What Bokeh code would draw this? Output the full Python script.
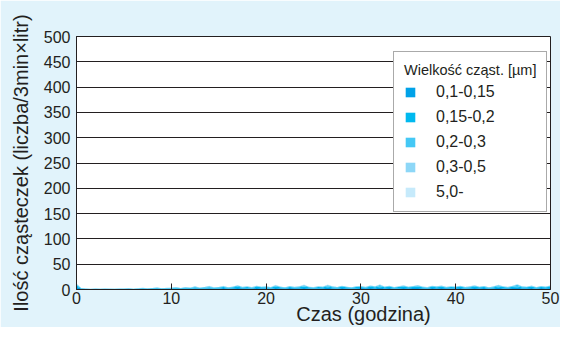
import numpy as np
from bokeh.plotting import figure
from bokeh.models import Legend, LegendItem, ColumnDataSource, FixedTicker
from bokeh.embed import file_html
from bokeh.resources import INLINE

# --- data ---
hours = list(np.linspace(0, 50, 101))
size_classes = ["0,1-0,15", "0,15-0,2", "0,2-0,3", "0,3-0,5", "5,0-"]
colors = ["#00a2e8", "#00b9ef", "#44c8f5", "#8dd7f7", "#c6eafb"]

s1 = [6.0, 1.5, 1.0, 0.8, 1.0, 0.9, 1.2, 1.0, 0.8, 1.1,
      1.0, 1.3, 0.9, 1.2, 1.5, 1.1, 1.4, 1.8, 1.2, 1.6,
      1.5, 1.9, 1.4, 2.0, 1.7, 2.4, 1.8, 2.1, 2.6, 1.9,
      2.2, 2.8, 2.0, 2.5, 3.0, 2.3, 2.7, 2.1, 2.9, 2.4,
      2.6, 2.2, 3.1, 2.5, 2.0, 2.8, 2.3, 2.6, 3.2, 2.4,
      2.1, 2.7, 2.5, 3.3, 2.6, 2.2, 2.9, 2.4, 2.0, 2.7,
      2.8, 2.3, 3.0, 2.6, 3.4, 2.5, 2.9, 2.2, 2.7, 3.1,
      2.4, 2.8, 3.2, 2.5, 2.1, 2.9, 2.6, 3.0, 2.3, 2.7,
      2.5, 2.9, 2.2, 2.6, 3.1, 2.4, 2.8, 2.0, 2.6, 3.3,
      2.7, 2.3, 2.9, 3.5, 2.6, 2.4, 3.0, 2.2, 2.8, 2.5, 2.9]
s2 = [3.0, 0.8, 0.5, 0.4, 0.5, 0.6, 0.5, 0.4, 0.6, 0.5,
      0.6, 0.7, 0.5, 0.8, 1.0, 0.7, 0.9, 1.2, 0.8, 1.0,
      1.1, 1.4, 0.9, 1.5, 1.2, 1.8, 1.3, 1.6, 2.0, 1.4,
      1.6, 2.2, 1.5, 1.9, 2.5, 1.7, 2.0, 1.6, 2.3, 1.8,
      2.0, 1.6, 2.6, 1.9, 1.5, 2.1, 1.7, 2.0, 2.7, 1.8,
      1.6, 2.1, 1.9, 2.8, 2.0, 1.7, 2.3, 1.8, 1.5, 2.1,
      2.2, 1.7, 2.4, 2.0, 2.9, 1.9, 2.3, 1.6, 2.1, 2.5,
      1.8, 2.2, 2.6, 1.9, 1.6, 2.3, 2.0, 2.4, 1.7, 2.1,
      1.9, 2.3, 1.7, 2.0, 2.5, 1.8, 2.2, 1.5, 2.0, 2.7,
      2.1, 1.7, 2.3, 3.0, 2.0, 1.8, 2.4, 1.6, 2.2, 1.9, 2.6]
s3 = [2.0, 0.4, 0.3, 0.2, 0.3, 0.2, 0.4, 0.3, 0.2, 0.3,
      0.3, 0.4, 0.3, 0.5, 0.6, 0.4, 0.5, 0.8, 0.4, 0.6,
      0.7, 1.2, 0.5, 0.9, 0.7, 1.5, 0.6, 1.0, 1.8, 0.7,
      0.9, 1.6, 0.8, 1.1, 2.2, 0.9, 1.3, 0.8, 1.7, 1.0,
      1.2, 0.8, 2.4, 1.0, 0.7, 1.4, 0.9, 1.2, 2.6, 1.0,
      0.8, 1.3, 1.1, 2.5, 1.2, 0.9, 1.6, 1.0, 0.7, 1.3,
      1.4, 0.9, 1.8, 1.2, 2.7, 1.1, 1.5, 0.8, 1.3, 2.0,
      1.0, 1.4, 2.1, 1.1, 0.8, 1.6, 1.2, 1.7, 0.9, 1.3,
      1.1, 1.6, 0.9, 1.2, 2.0, 1.0, 1.4, 0.7, 1.2, 2.3,
      1.3, 0.9, 1.5, 2.8, 1.2, 1.0, 1.7, 0.8, 1.4, 1.1, 1.9]
s4 = [1.0, 0.1, 0.1, 0.0, 0.1, 0.0, 0.1, 0.1, 0.0, 0.1,
      0.1, 0.1, 0.0, 0.2, 0.2, 0.1, 0.2, 0.3, 0.1, 0.2,
      0.2, 0.4, 0.2, 0.3, 0.2, 0.5, 0.2, 0.3, 0.6, 0.2,
      0.3, 0.5, 0.2, 0.4, 0.8, 0.3, 0.4, 0.2, 0.6, 0.3,
      0.4, 0.2, 0.9, 0.3, 0.2, 0.5, 0.3, 0.4, 1.0, 0.3,
      0.2, 0.4, 0.3, 0.9, 0.4, 0.3, 0.6, 0.3, 0.2, 0.4,
      0.5, 0.3, 0.7, 0.4, 1.1, 0.3, 0.5, 0.2, 0.4, 0.8,
      0.3, 0.5, 0.8, 0.3, 0.2, 0.6, 0.4, 0.6, 0.3, 0.4,
      0.3, 0.6, 0.3, 0.4, 0.8, 0.3, 0.5, 0.2, 0.4, 0.9,
      0.4, 0.3, 0.5, 1.2, 0.4, 0.3, 0.6, 0.2, 0.5, 0.3, 0.7]
s5 = [0.5, 0.0, 0.0, 0.0, 0.0, 0.0, 0.0, 0.0, 0.0, 0.0,
      0.0, 0.0, 0.0, 0.1, 0.0, 0.0, 0.1, 0.1, 0.0, 0.0,
      0.1, 0.2, 0.0, 0.1, 0.0, 0.2, 0.1, 0.0, 0.3, 0.0,
      0.1, 0.2, 0.0, 0.1, 0.4, 0.1, 0.1, 0.0, 0.3, 0.1,
      0.1, 0.0, 0.4, 0.1, 0.0, 0.2, 0.1, 0.1, 0.5, 0.1,
      0.0, 0.1, 0.1, 0.4, 0.1, 0.0, 0.2, 0.1, 0.0, 0.1,
      0.2, 0.1, 0.3, 0.1, 0.5, 0.1, 0.2, 0.0, 0.1, 0.3,
      0.1, 0.2, 0.3, 0.1, 0.0, 0.2, 0.1, 0.2, 0.1, 0.1,
      0.1, 0.2, 0.1, 0.1, 0.3, 0.1, 0.2, 0.0, 0.1, 0.4,
      0.1, 0.1, 0.2, 0.5, 0.1, 0.1, 0.2, 0.0, 0.2, 0.1, 0.3]

y_ticks = [0, 50, 100, 150, 200, 250, 300, 350, 400, 450, 500]
x_ticks = [0, 10, 20, 30, 40, 50]
x_title = "Czas (godzina)"
y_title = "Ilość cząsteczek (liczba/3min×litr)"
legend_title = "Wielkość cząst. [µm]"

FONT = "Liberation Sans"
TXT = "#231f20"
BG = "#e1f3fb"
NBSP = "\u00a0"

p = figure(width=560, height=327, x_range=(0, 50), y_range=(0, 500),
           output_backend="svg", toolbar_location=None,
           background_fill_color="white", border_fill_color=BG,
           min_border_left=76, min_border_right=10, min_border_top=36,
           min_border_bottom=38)
p.outline_line_color = TXT
p.outline_line_width = 1

series = [s1, s2, s3, s4, s5]
data = {"x": hours}
base = [0.0] * len(hours)
for i, s in enumerate(series):
    hi = [b + v for b, v in zip(base, s)]
    data[f"lo{i}"] = list(base)
    data[f"hi{i}"] = hi
    base = hi
src = ColumnDataSource(data)

items = []
for i, (name, c) in enumerate(zip(size_classes, colors)):
    r = p.varea(x="x", y1=f"lo{i}", y2=f"hi{i}", source=src, fill_color=c)
    items.append(LegendItem(label=name, renderers=[r]))

# grid
p.xgrid.visible = False
p.ygrid.ticker = FixedTicker(ticks=y_ticks)
p.ygrid.grid_line_color = TXT
p.ygrid.grid_line_width = 1

# axes
p.xaxis.ticker = FixedTicker(ticks=x_ticks)
p.yaxis.ticker = FixedTicker(ticks=y_ticks)
for ax in (p.xaxis[0], p.yaxis[0]):
    ax.axis_line_color = TXT
    ax.major_tick_line_color = TXT
    ax.minor_tick_line_color = None
    ax.major_label_text_font = FONT
    ax.major_label_text_font_size = "16px"
    ax.major_label_text_color = TXT
    ax.axis_label_text_font = FONT
    ax.axis_label_text_font_style = "normal"
    ax.axis_label_text_color = TXT
    ax.axis_label_text_font_size = "20px"
p.xaxis.major_tick_in = 6
p.xaxis.major_tick_out = 0
p.yaxis.major_tick_in = 6
p.yaxis.major_tick_out = 0
p.xaxis.major_label_standoff = 2
p.yaxis.major_label_standoff = 6
# leading non-breaking spaces shift the centred title to the right, as in the original
p.xaxis.axis_label = NBSP * 18 + x_title
p.xaxis.axis_label_standoff = -4
p.yaxis.axis_label = y_title
p.yaxis.axis_label_standoff = 9

legend = Legend(items=items, location=(317, 77), title=legend_title)
legend.title_text_font = FONT
legend.title_text_font_size = "14.5px"
legend.title_text_font_style = "normal"
legend.title_text_color = TXT
legend.title_standoff = 5
legend.label_text_font = FONT
legend.label_text_font_size = "16px"
legend.label_text_color = TXT
legend.glyph_width = 12
legend.glyph_height = 12
legend.label_height = 14
legend.label_standoff = 20
legend.spacing = 7
legend.padding = 10
legend.margin = 0
legend.border_line_color = "#555555"
legend.border_line_width = 1
legend.background_fill_color = "white"
legend.background_fill_alpha = 1
p.add_layout(legend, "center")

open("out.html", "w").write(file_html(p, INLINE))
